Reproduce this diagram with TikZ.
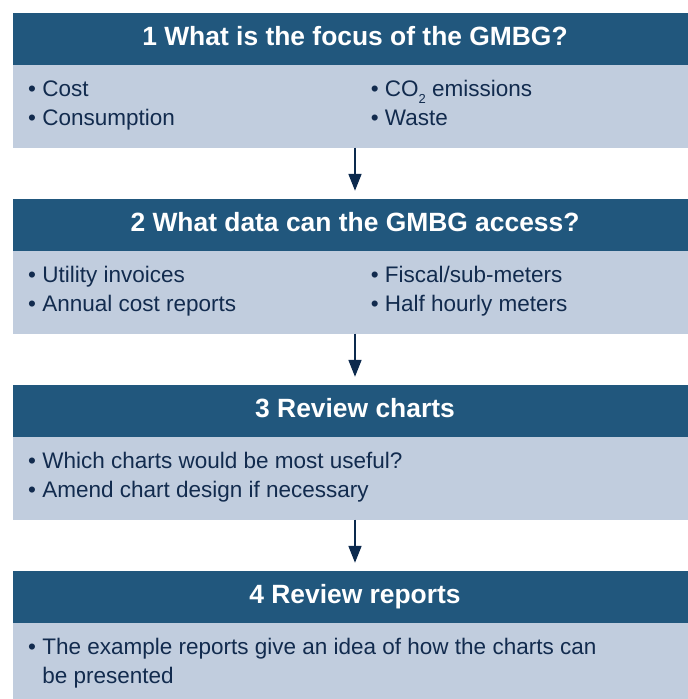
\documentclass[tikz,border=0pt]{standalone}
\usepackage{fontspec}
\setmainfont{Liberation Sans}
\usepackage{tikz}
\usetikzlibrary{calc, arrows.meta}
\usetikzlibrary{positioning}

\definecolor{headblue}{RGB}{33,87,125}
\definecolor{bodyblue}{RGB}{193,205,222}
\definecolor{textblue}{RGB}{18,43,78}
\definecolor{arrowblue}{RGB}{12,42,78}

\begin{document}
\begin{tikzpicture}[x=1pt, y=-1pt,
    header/.style={rectangle, fill=headblue, text=white, font=\fontsize{26.4}{30}\selectfont\bfseries,
        minimum width=684pt, minimum height=52.5pt, inner sep=0pt, outer sep=0pt, text height=19pt, text depth=6.5pt},
    body/.style={rectangle, fill=bodyblue, minimum width=684pt, minimum height=82.5pt, inner sep=0pt, outer sep=0pt},
    item/.style={anchor=base west, inner sep=0pt, text=textblue, font=\fontsize{22.5}{28.5}\selectfont},
    flow/.style={draw=arrowblue, line width=2.6pt, -{Triangle[width=12.7pt, length=17pt]}, shorten >=7.6pt}
    ]
    \useasboundingbox (0,0) rectangle (688,699);
    \clip (0,0) rectangle (688,699);

    \foreach \title [count=\i, remember=\i as \prev (initially 0)] in
        {1 What is the focus of the GMBG?, 2 What data can the GMBG access?, 3 Review charts, 4 Review reports} {
        \ifnum \i = 1
        \node[header, anchor=north] (h\i) at (355,12.5) {\title};
        \else
        \node[header, below=51pt of b\prev] (h\i) {\title};
        % arrow from previous step
        \draw[flow] (b\prev.south) -- (h\i.north);
        \fi
        \node[body, below=0pt of h\i] (b\i) {};
    }

    % bullet points
    \foreach \txt [count=\j from 0] in {Cost, Consumption}
        \node[item] (b1l\j) at ($(b1.north west)+(15,31.8+28.5*\j)$) {\textbullet\ \txt};
    \foreach \txt [count=\j from 0] in {{CO\raisebox{-0.3em}{\fontsize{13}{13}\selectfont 2} emissions}, Waste}
        \node[item] (b1r\j) at ($(b1.north west)+(357.6,31.8+28.5*\j)$) {\textbullet\ \txt};

    \foreach \txt [count=\j from 0] in {Utility invoices, Annual cost reports}
        \node[item] (b2l\j) at ($(b2.north west)+(15,31.8+28.5*\j)$) {\textbullet\ \txt};
    \foreach \txt [count=\j from 0] in {Fiscal/sub-meters, Half hourly meters}
        \node[item] (b2r\j) at ($(b2.north west)+(357.6,31.8+28.5*\j)$) {\textbullet\ \txt};

    \foreach \txt [count=\j from 0] in {Which charts would be most useful?, Amend chart design if necessary}
        \node[item] (b3l\j) at ($(b3.north west)+(15,31.8+28.5*\j)$) {\textbullet\ \txt};

    \node[item] (b4l0) at ($(b4.north west)+(15,31.8)$) {\textbullet\ The example reports give an idea of how the charts can};
    \node[item] (b4l1) at ($(b4l0.base west)+(0,28.5)$) {\phantom{\textbullet\ }be presented};

\end{tikzpicture}
\end{document}
